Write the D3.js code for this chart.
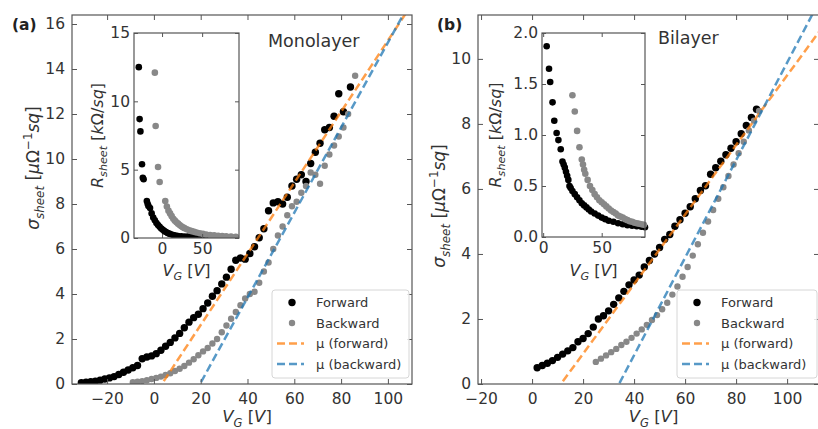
<!DOCTYPE html>
<html>
<head>
<meta charset="utf-8">
<script src="https://cdn.jsdelivr.net/npm/d3@7"></script>
<style>
body { margin: 0; background: #fff; }
svg text { font-family: "DejaVu Sans", sans-serif; fill: #333; }
</style>
</head>
<body>
<div class="fig"></div>
<script>
// ---- Data ----
// Monolayer, sheet conductance [V_G, sigma]
let monoForward = [[-31,0.06],[-29,0.08],[-27,0.1],[-25,0.13],[-23,0.17],[-21,0.22],[-19,0.27],[-17,0.33],[-15,0.42],[-13,0.52],[-11,0.62],[-9,0.72],[-7,0.82],[-5,1.12],[-3,1.2],[-1,1.25],[1,1.35],[3,1.5],[5,1.68],[7,1.85],[9,2.05],[11,2.25],[13,2.5],[15,2.75],[17,2.95],[19,3.1],[21,3.35],[23,3.6],[25,3.9],[27,4.15],[29,4.45],[31,4.75],[33,5.1],[35,5.5],[37,5.6],[39,5.55],[41,5.8],[43,6.1],[45,6.5],[47,6.9],[49,7.7],[51,8.05],[53,8.1],[55,8.0],[57,8.3],[59,8.8],[61,9.1],[63,9.3],[65,9.0],[67,9.8],[69,10.3],[71,10.7],[73,11.3],[75,11.4],[77,11.9],[79,12.9],[81,12.1],[84,13.2]];
let monoBackward = [[-9,0.08],[-7,0.1],[-5,0.13],[-3,0.17],[-1,0.22],[1,0.27],[3,0.33],[5,0.4],[7,0.48],[9,0.58],[11,0.68],[13,0.8],[15,0.95],[17,1.1],[19,1.28],[21,1.45],[23,1.6],[25,1.8],[27,2.0],[29,2.3],[31,2.6],[33,2.9],[35,3.2],[37,3.5],[39,3.8],[41,4.0],[43,4.1],[45,4.5],[47,5.0],[49,5.4],[51,6.0],[53,6.6],[55,7.0],[57,7.5],[59,7.9],[61,8.1],[63,8.5],[65,8.8],[67,9.4],[69,9.3],[71,8.9],[73,9.7],[75,10.2],[77,10.6],[79,11.0],[81,11.4],[83,12.0],[86,13.7]];
// Monolayer inset, sheet resistance [V_G, R]
let monoInsetForward = [[-29,12.5],[-28,8.7],[-27,7.8],[-25,5.4],[-24,4.4],[-23,4.3],[-19,2.7],[-18,2.5],[-17,2.35],[-15,2.2],[-13,1.8],[-11,1.5],[-9,1.3],[-7,1.1],[-5,0.95],[-3,0.82],[-1,0.7],[1,0.6],[3,0.5],[5,0.43],[7,0.37],[9,0.32],[11,0.27],[14,0.22],[17,0.18],[20,0.15],[24,0.13],[28,0.11],[32,0.1],[36,0.09],[40,0.085],[45,0.08],[50,0.075],[56,0.07],[62,0.065],[68,0.06],[74,0.058],[80,0.055],[86,0.05]];
let monoInsetBackward = [[-9,12.1],[-8,8.2],[-5,5.2],[-3,4.1],[4,2.7],[6,2.3],[8,2.0],[10,1.8],[12,1.6],[14,1.4],[16,1.27],[18,1.15],[20,1.05],[22,0.95],[24,0.86],[26,0.78],[28,0.72],[31,0.64],[34,0.56],[37,0.5],[40,0.45],[43,0.4],[47,0.35],[51,0.3],[55,0.26],[60,0.22],[65,0.19],[70,0.16],[75,0.14],[80,0.12],[86,0.1],[92,0.09]];

// Bilayer, sheet conductance [V_G, sigma]
let biForward = [[2,0.5],[4,0.57],[6,0.64],[8,0.72],[10,0.82],[12,0.92],[14,1.02],[16,1.12],[18,1.3],[20,1.4],[22,1.55],[24,1.75],[26,2.0],[28,2.1],[30,2.25],[32,2.45],[34,2.65],[36,2.85],[38,3.05],[40,3.2],[42,3.35],[44,3.6],[46,3.8],[48,4.0],[50,4.2],[52,4.45],[54,4.6],[56,4.85],[58,5.05],[60,5.25],[62,5.45],[64,5.7],[66,5.95],[68,6.1],[70,6.45],[72,6.65],[74,6.85],[76,7.05],[78,7.25],[80,7.45],[82,7.7],[84,7.95],[86,8.2],[88,8.45]];
let biBackward = [[25,0.68],[27,0.78],[29,0.88],[31,0.98],[33,1.08],[35,1.2],[37,1.3],[39,1.42],[41,1.55],[43,1.68],[45,1.82],[47,1.97],[49,2.12],[51,2.3],[53,2.5],[55,2.75],[57,3.0],[59,3.3],[61,3.6],[63,3.95],[65,4.3],[67,4.65],[69,5.0],[71,5.35],[73,5.7],[75,6.05],[77,6.4],[79,6.75],[81,7.1],[83,7.45],[85,7.8],[87,8.1],[89,8.4]];
// Bilayer inset, sheet resistance [V_G, R]
let biInsetForward = [[3,1.87],[5,1.65],[6,1.52],[8,1.32],[9.5,1.14],[11.5,1.02],[13,0.95],[15,0.86],[16.5,0.74],[17.5,0.71],[18.5,0.68],[19.5,0.64],[20.5,0.6],[21.5,0.56],[22.5,0.5],[23.5,0.48],[25,0.45],[27,0.42],[29,0.39],[31,0.36],[33,0.33],[35,0.31],[37,0.29],[39,0.27],[41,0.25],[44,0.23],[47,0.21],[50,0.19],[53,0.175],[56,0.16],[60,0.15],[64,0.135],[68,0.125],[72,0.115],[76,0.11],[80,0.105],[84,0.1],[87,0.095]];
let biInsetBackward = [[25,1.39],[27,1.23],[29,1.04],[31,0.88],[33,0.76],[34,0.71],[35,0.66],[36,0.62],[38,0.56],[40,0.5],[42,0.46],[44,0.42],[46,0.39],[48,0.36],[50,0.34],[52,0.32],[54,0.3],[56,0.28],[58,0.26],[60,0.245],[62,0.23],[64,0.21],[66,0.2],[68,0.19],[70,0.175],[72,0.165],[74,0.155],[76,0.15],[78,0.14],[80,0.135],[82,0.13],[84,0.125],[86,0.12]];

// Linear mobility fits: x-intercept and slope
let monoFits = {forward: {x0: 3.4, slope: 0.158}, backward: {x0: 19.7, slope: 0.189}};
let biFits = {forward: {x0: 11.3, slope: 0.107}, backward: {x0: 34.1, slope: 0.150}};

// Ticks and labels
let mainXTicks = [-20, 0, 20, 40, 60, 80, 100];
let monoYTicks = [0, 2, 4, 6, 8, 10, 12, 14, 16];
let biYTicks = [0, 2, 4, 6, 8, 10];
let monoInsetYTicks = [0, 5, 10, 15];
let biInsetYTicks = [0, 0.5, 1.0, 1.5, 2.0];
let insetXTicks = [0, 50];
let legendLabels = ['Forward', 'Backward', 'μ (forward)', 'μ (backward)'];

// ---- Style ----
let colors = {forward: '#000', backward: '#888', fitForward: '#ff7f0e', fitBackward: '#1f77b4'};
let spineColor = '#555';

let svg = d3.select('.fig').append('svg')
    .attr('width', 818)
    .attr('height', 429);

// Write mathtext-like label made of tspans.
function addMath(text, parts, size) {
    let shift = 0;
    parts.forEach(p => {
        let target = p.sub ? 0.28 : (p.sup ? -0.4 : 0);
        let ts = text.append('tspan').text(p.t);
        let dy = (target - shift) * size;
        if (dy) ts.attr('dy', dy);
        shift = target;
        if (p.sub || p.sup) ts.attr('font-size', size * 0.7);
        if (p.i) ts.style('font-style', 'italic');
    });
}

let vgParts = [{t: 'V', i: true}, {t: 'G', i: true, sub: true}, {t: ' ['}, {t: 'V', i: true}, {t: ']'}];
let sigmaParts = [{t: 'σ', i: true}, {t: 'sheet', i: true, sub: true}, {t: ' ['}, {t: 'μ', i: true}, {t: 'Ω'}, {t: '−1', sup: true}, {t: 'sq', i: true}, {t: ']'}];
let rParts = [{t: 'R', i: true}, {t: 'sheet', i: true, sub: true}, {t: ' ['}, {t: 'k', i: true}, {t: 'Ω/'}, {t: 'sq', i: true}, {t: ']'}];

// Draw axes with inward ticks on all four sides.
function drawFrame(g, x, y, xTicks, yTicks, opt) {
    let [x0, x1] = x.range();
    let [yb, yt] = y.range();
    let tl = opt.tickLen;

    g.append('g')
        .attr('transform', `translate(0,${yb})`)
        .call(d3.axisBottom(x).tickValues(xTicks).tickSizeInner(-tl).tickSizeOuter(0).tickPadding(opt.xPad).tickFormat(opt.xFormat || d3.format('')))
        .call(a => a.select('.domain').remove())
        .call(a => a.selectAll('text').attr('font-size', opt.font).attr('fill', '#333'));
    g.append('g')
        .attr('transform', `translate(0,${yt})`)
        .call(d3.axisTop(x).tickValues(xTicks).tickSizeInner(-tl).tickSizeOuter(0).tickFormat(''))
        .call(a => a.select('.domain').remove());
    g.append('g')
        .attr('transform', `translate(${x0},0)`)
        .call(d3.axisLeft(y).tickValues(yTicks).tickSizeInner(-tl).tickSizeOuter(0).tickPadding(opt.yPad).tickFormat(opt.yFormat || d3.format('')))
        .call(a => a.select('.domain').remove())
        .call(a => a.selectAll('text').attr('font-size', opt.font).attr('fill', '#333'));
    g.append('g')
        .attr('transform', `translate(${x1},0)`)
        .call(d3.axisRight(y).tickValues(yTicks).tickSizeInner(-tl).tickSizeOuter(0).tickFormat(''))
        .call(a => a.select('.domain').remove());

    g.selectAll('.tick line').attr('stroke', spineColor);

    g.append('rect')
        .attr('x', x0).attr('y', yt)
        .attr('width', x1 - x0).attr('height', yb - yt)
        .attr('fill', 'none')
        .attr('stroke', spineColor)
        .attr('stroke-width', 1.2);
}

function drawPoints(g, x, y, data, color, r) {
    g.append('g').selectAll('circle')
        .data(data)
        .join('circle')
            .attr('cx', d => x(d[0]))
            .attr('cy', d => y(d[1]))
            .attr('r', r)
            .attr('fill', color);
}

function drawPanel(p) {
    let g = svg.append('g');
    let x = d3.scaleLinear().domain(p.xDomain).range([p.left, p.right]);
    let y = d3.scaleLinear().domain(p.yDomain).range([p.bottom, p.top]);

    let clipId = 'clip-' + p.id;
    svg.append('clipPath').attr('id', clipId)
        .append('rect')
            .attr('x', p.left).attr('y', p.top)
            .attr('width', p.right - p.left).attr('height', p.bottom - p.top);

    let plot = g.append('g').attr('clip-path', `url(#${clipId})`);

    // Points.
    drawPoints(plot, x, y, p.forward, colors.forward, 3.7);
    drawPoints(plot, x, y, p.backward, colors.backward, 3.2);

    // Fit lines.
    let yMax = p.yDomain[1];
    let fitLine = d3.line().x(d => x(d[0])).y(d => y(d[1]));
    [['forward', colors.fitForward], ['backward', colors.fitBackward]].forEach(([k, c]) => {
        let f = p.fits[k];
        let pts = [[f.x0 - 2, -2 * f.slope], [f.x0 + (yMax + 1) / f.slope, yMax + 1]];
        plot.append('path')
            .attr('d', fitLine(pts))
            .attr('fill', 'none')
            .attr('stroke', c)
            .attr('stroke-width', 2.5)
            .attr('stroke-opacity', 0.75)
            .attr('stroke-dasharray', '8,4');
    });

    drawFrame(g, x, y, mainXTicks, p.yTicks, {tickLen: 5, font: 15.5, xPad: 9, yPad: 7});

    // Axis labels.
    let xl = g.append('text')
        .attr('x', (p.left + p.right) / 2 + 5)
        .attr('y', 422)
        .attr('text-anchor', 'middle')
        .attr('font-size', 16.5);
    addMath(xl, vgParts, 16.5);

    let yl = g.append('text')
        .attr('transform', `translate(${p.left - 33},${p.yLabelY}) rotate(-90)`)
        .attr('text-anchor', 'middle')
        .attr('font-size', 17);
    addMath(yl, sigmaParts, 17);

    // Panel tag and title.
    g.append('text')
        .attr('x', p.tagX).attr('y', 30)
        .attr('font-size', 15.5)
        .attr('font-weight', 'bold')
        .style('fill', '#222')
        .text(p.tag);
    g.append('text')
        .attr('x', p.titleX).attr('y', p.titleY)
        .attr('font-size', 17.5)
        .text(p.title);

    // Legend.
    let L = p.legendX, T = 290;
    let lg = g.append('g');
    lg.append('rect')
        .attr('x', L).attr('y', T)
        .attr('width', p.legendW).attr('height', 88)
        .attr('rx', 3)
        .attr('fill', '#fff')
        .attr('fill-opacity', 0.85)
        .attr('stroke', '#d6d6d6');
    legendLabels.forEach((label, i) => {
        let cy = T + 12.5 + i * 20.5;
        if (i === 0) lg.append('circle').attr('cx', L + 20).attr('cy', cy).attr('r', 3.7).attr('fill', colors.forward);
        if (i === 1) lg.append('circle').attr('cx', L + 20).attr('cy', cy).attr('r', 3.2).attr('fill', colors.backward);
        if (i >= 2) {
            lg.append('line')
                .attr('x1', L + 5).attr('x2', L + 32)
                .attr('y1', cy).attr('y2', cy)
                .attr('stroke', i === 2 ? colors.fitForward : colors.fitBackward)
                .attr('stroke-width', 2.5)
                .attr('stroke-opacity', 0.75)
                .attr('stroke-dasharray', '8,4');
        }
        lg.append('text')
            .attr('x', L + 44).attr('y', cy + 4.5)
            .attr('font-size', 13)
            .text(label);
    });

    // Inset.
    let ins = p.inset;
    let ix = d3.scaleLinear().domain(ins.xDomain).range([ins.left, ins.right]);
    let iy = d3.scaleLinear().domain(ins.yDomain).range([ins.bottom, ins.top]);
    let ig = g.append('g');
    ig.append('rect')
        .attr('x', ins.left).attr('y', ins.top)
        .attr('width', ins.right - ins.left).attr('height', ins.bottom - ins.top)
        .attr('fill', '#fff');
    let iclip = 'iclip-' + p.id;
    svg.append('clipPath').attr('id', iclip)
        .append('rect')
            .attr('x', ins.left).attr('y', ins.top - 4)
            .attr('width', ins.right - ins.left + 4).attr('height', ins.bottom - ins.top + 4);
    let iplot = ig.append('g').attr('clip-path', `url(#${iclip})`);
    drawPoints(iplot, ix, iy, ins.forward, colors.forward, 3.3);
    drawPoints(iplot, ix, iy, ins.backward, colors.backward, 3.3);

    drawFrame(ig, ix, iy, insetXTicks, ins.yTicks, {tickLen: 4, font: 15.5, xPad: 5, yPad: 4, yFormat: ins.yFormat});

    let ixl = ig.append('text')
        .attr('x', (ins.left + ins.right) / 2)
        .attr('y', 276)
        .attr('text-anchor', 'middle')
        .attr('font-size', 16);
    addMath(ixl, vgParts, 16);

    let iyl = ig.append('text')
        .attr('transform', `translate(${ins.labelX},${(ins.top + ins.bottom) / 2}) rotate(-90)`)
        .attr('text-anchor', 'middle')
        .attr('font-size', 16);
    addMath(iyl, rParts, 16);
}

drawPanel({
    id: 'a', tag: '(a)', tagX: 12, title: 'Monolayer', titleX: 268, titleY: 47,
    left: 72, right: 412, top: 15, bottom: 384, yLabelY: 168,
    xDomain: [-35, 110.3], yDomain: [0, 16.4],
    yTicks: monoYTicks,
    forward: monoForward, backward: monoBackward, fits: monoFits,
    legendX: 272, legendW: 137,
    inset: {
        left: 134, right: 239, top: 33, bottom: 238,
        xDomain: [-35, 96], yDomain: [0, 15],
        yTicks: monoInsetYTicks, labelX: 103,
        forward: monoInsetForward, backward: monoInsetBackward
    }
});

drawPanel({
    id: 'b', tag: '(b)', tagX: 437, title: 'Bilayer', titleX: 658, titleY: 44,
    left: 478, right: 819, top: 15, bottom: 384, yLabelY: 206,
    xDomain: [-21.2, 112.5], yDomain: [0, 11.35],
    yTicks: biYTicks,
    forward: biForward, backward: biBackward, fits: biFits,
    legendX: 677, legendW: 140,
    inset: {
        left: 542, right: 645, top: 33, bottom: 237,
        xDomain: [-1, 87], yDomain: [0, 2],
        yTicks: biInsetYTicks, yFormat: d3.format('.1f'), labelX: 501,
        forward: biInsetForward, backward: biInsetBackward
    }
});
</script>
</body>
</html>
